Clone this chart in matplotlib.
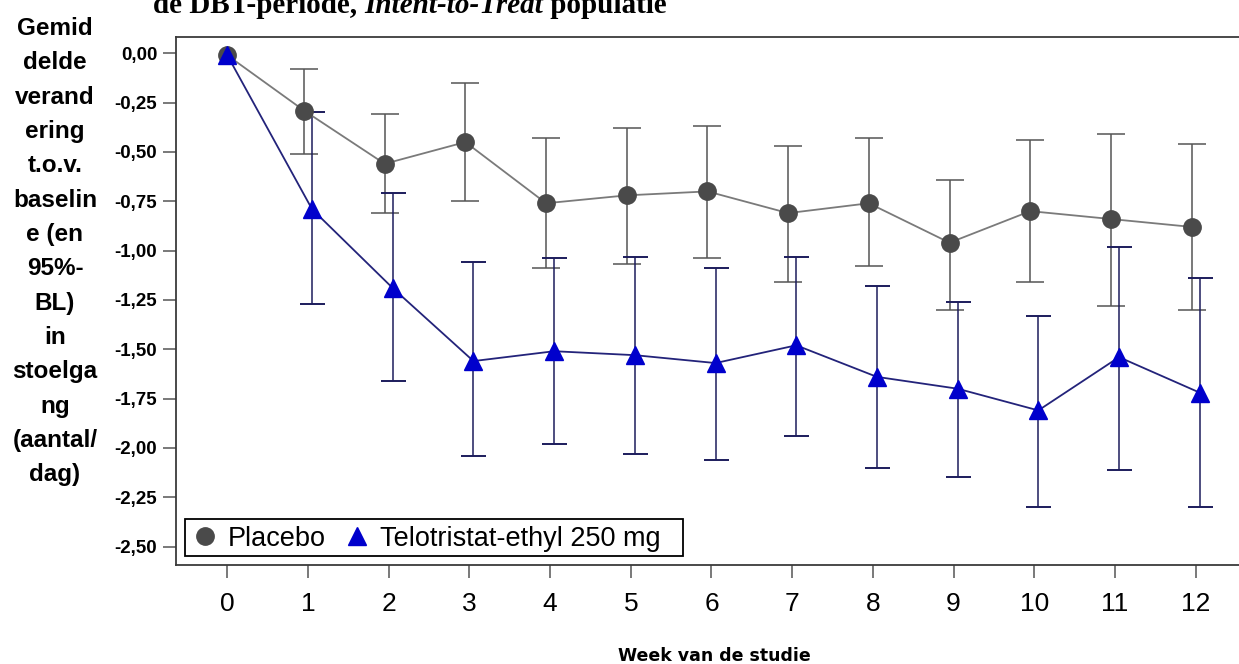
import numpy as np
import matplotlib
matplotlib.use("Agg")
import matplotlib.pyplot as plt
from matplotlib.lines import Line2D
from matplotlib.patches import Rectangle

# ---------------- data ----------------
weeks = [0, 1, 2, 3, 4, 5, 6, 7, 8, 9, 10, 11, 12]
placebo_mean = [-0.01, -0.29, -0.56, -0.45, -0.76, -0.72, -0.70, -0.81, -0.76, -0.96, -0.80, -0.84, -0.88]
placebo_upper = [-0.01, -0.08, -0.31, -0.15, -0.43, -0.38, -0.37, -0.47, -0.43, -0.64, -0.44, -0.41, -0.46]
placebo_lower = [-0.01, -0.51, -0.81, -0.75, -1.09, -1.07, -1.04, -1.16, -1.08, -1.30, -1.16, -1.28, -1.30]
telo_mean = [-0.01, -0.79, -1.19, -1.56, -1.51, -1.53, -1.57, -1.48, -1.64, -1.70, -1.81, -1.54, -1.72]
telo_upper = [-0.01, -0.30, -0.71, -1.06, -1.04, -1.03, -1.09, -1.03, -1.18, -1.26, -1.33, -0.98, -1.14]
telo_lower = [-0.01, -1.27, -1.66, -2.04, -1.98, -2.03, -2.06, -1.94, -2.10, -2.15, -2.30, -2.11, -2.30]
series_names = ["Placebo", "Telotristat-ethyl 250 mg"]
y_ticks = [0.00, -0.25, -0.50, -0.75, -1.00, -1.25, -1.50, -1.75, -2.00, -2.25, -2.50]
y_tick_labels = ["0,00", "-0,25", "-0,50", "-0,75", "-1,00", "-1,25", "-1,50",
                 "-1,75", "-2,00", "-2,25", "-2,50"]
x_tick_labels = [str(w) for w in weeks]
x_label = "Week van de studie"
y_label = ("Gemid\ndelde\nverand\nering\nt.o.v.\nbaselin\ne (en\n95%-\nBL)\nin\n"
           "stoelga\nng\n(aantal/\ndag)")
title_parts = ["de DBT-periode, ", "Intent-to-Treat", " populatie"]

# ---------------- figure ----------------
W, H = 1239, 664
fig = plt.figure(figsize=(W / 100, H / 100), dpi=100)
fig.patch.set_facecolor("white")

ax_left, ax_right, ax_top, ax_bottom = 176, 1252, 37, 565
ax = fig.add_axes([ax_left / W, 1 - ax_bottom / H,
                   (ax_right - ax_left) / W, (ax_bottom - ax_top) / H])

w = np.array(weeks, dtype=float)
dodge = np.where(w == 0, 0.0, 0.05)
xp = w - dodge
xt = w + dodge

pm = np.array(placebo_mean)
pu = np.array(placebo_upper)
pl = np.array(placebo_lower)
tm = np.array(telo_mean)
tu = np.array(telo_upper)
tl = np.array(telo_lower)
p_has = pu != pl
t_has = tu != tl

gray_line = "#7a7a7a"
gray_err = "#555555"
gray_mark = "#4a4a4a"
navy_line = "#23237a"
navy_err = "#1c1c5c"
blue_mark = "#0000cc"

# error bars
ax.errorbar(xp[p_has], pm[p_has], yerr=[(pm - pl)[p_has], (pu - pm)[p_has]], fmt="none",
            ecolor=gray_err, elinewidth=1.1, capsize=10, capthick=1.1, zorder=2)
ax.errorbar(xt[t_has], tm[t_has], yerr=[(tm - tl)[t_has], (tu - tm)[t_has]], fmt="none",
            ecolor=navy_err, elinewidth=1.1, capsize=9, capthick=1.4, zorder=2)
# lines
ax.plot(xp, pm, color=gray_line, lw=1.3, zorder=3)
ax.plot(xt, tm, color=navy_line, lw=1.3, zorder=3)
# markers
ax.plot(xp, pm, ls="none", marker="o", ms=12.5, color=gray_mark, zorder=4)
ax.plot(xt, tm, ls="none", marker="^", ms=13.5, color=blue_mark, zorder=5)

ax.set_xlim((ax_left - 227.3) / 80.7, (ax_right - 227.3) / 80.7)
ax.set_ylim(-(ax_bottom - 53.3) / 197.3, -(ax_top - 53.3) / 197.3)

ax.set_xticks(weeks)
ax.set_xticklabels(x_tick_labels, fontsize=19, family="Liberation Sans")
ax.set_yticks(y_ticks)
ax.set_yticklabels(y_tick_labels, fontsize=13.5, fontweight="bold", family="Liberation Sans")
ax.tick_params(axis="x", length=9.5, width=1.1, color="#555555", pad=10)
ax.tick_params(axis="y", length=9.5, width=1.1, color="#555555", pad=4)

for side in ["top", "bottom", "left", "right"]:
    ax.spines[side].set_color("#3a3a3a")
    ax.spines[side].set_linewidth(1.3)

ax.set_xlabel(x_label, fontsize=12.5, fontweight="bold", family="DejaVu Sans",
              labelpad=22)

# legend (entries) + its box
handles = [
    Line2D([], [], ls="none", marker="o", ms=12.5, color=gray_mark),
    Line2D([], [], ls="none", marker="^", ms=13.5, color=blue_mark),
]
axw, axh = ax_right - ax_left, ax_bottom - ax_top
leg = ax.legend(handles, series_names, loc="lower left",
                bbox_to_anchor=(14 / axw, 9 / axh),
                borderaxespad=0, ncol=2, frameon=False,
                handlelength=0.8, handletextpad=0.45,
                columnspacing=0.75, borderpad=0.15,
                prop={"family": "Liberation Sans", "size": 19.5})
ax.add_patch(Rectangle(((185 - ax_left) / axw, (ax_bottom - 556) / axh),
                       (683 - 185) / axw, (556 - 519) / axh,
                       transform=ax.transAxes, fill=False, edgecolor="black",
                       lw=1.3, zorder=6))

# y label block
fig.text(55 / W, 1 - 17 / H, y_label, ha="center", va="top", fontsize=17.5,
         fontweight="bold", family="Liberation Sans", linespacing=1.63)

# title (partially cut at top, as in the source)
yb = 1 - 19 / H
fs_t = 21
t1 = fig.text(153 / W, yb, title_parts[0], ha="left", va="bottom", fontsize=fs_t,
              fontweight="bold", family="Liberation Serif")
t2 = ax.annotate(title_parts[1], xy=(1, 0), xycoords=t1, ha="left", va="bottom",
                 fontsize=fs_t, fontweight="bold", style="italic",
                 family="Liberation Serif", annotation_clip=False)
t3 = ax.annotate(title_parts[2], xy=(1, 0), xycoords=t2, ha="left", va="bottom",
                 fontsize=fs_t, fontweight="bold", family="Liberation Serif",
                 annotation_clip=False)

fig.savefig("out.png", dpi=100)
